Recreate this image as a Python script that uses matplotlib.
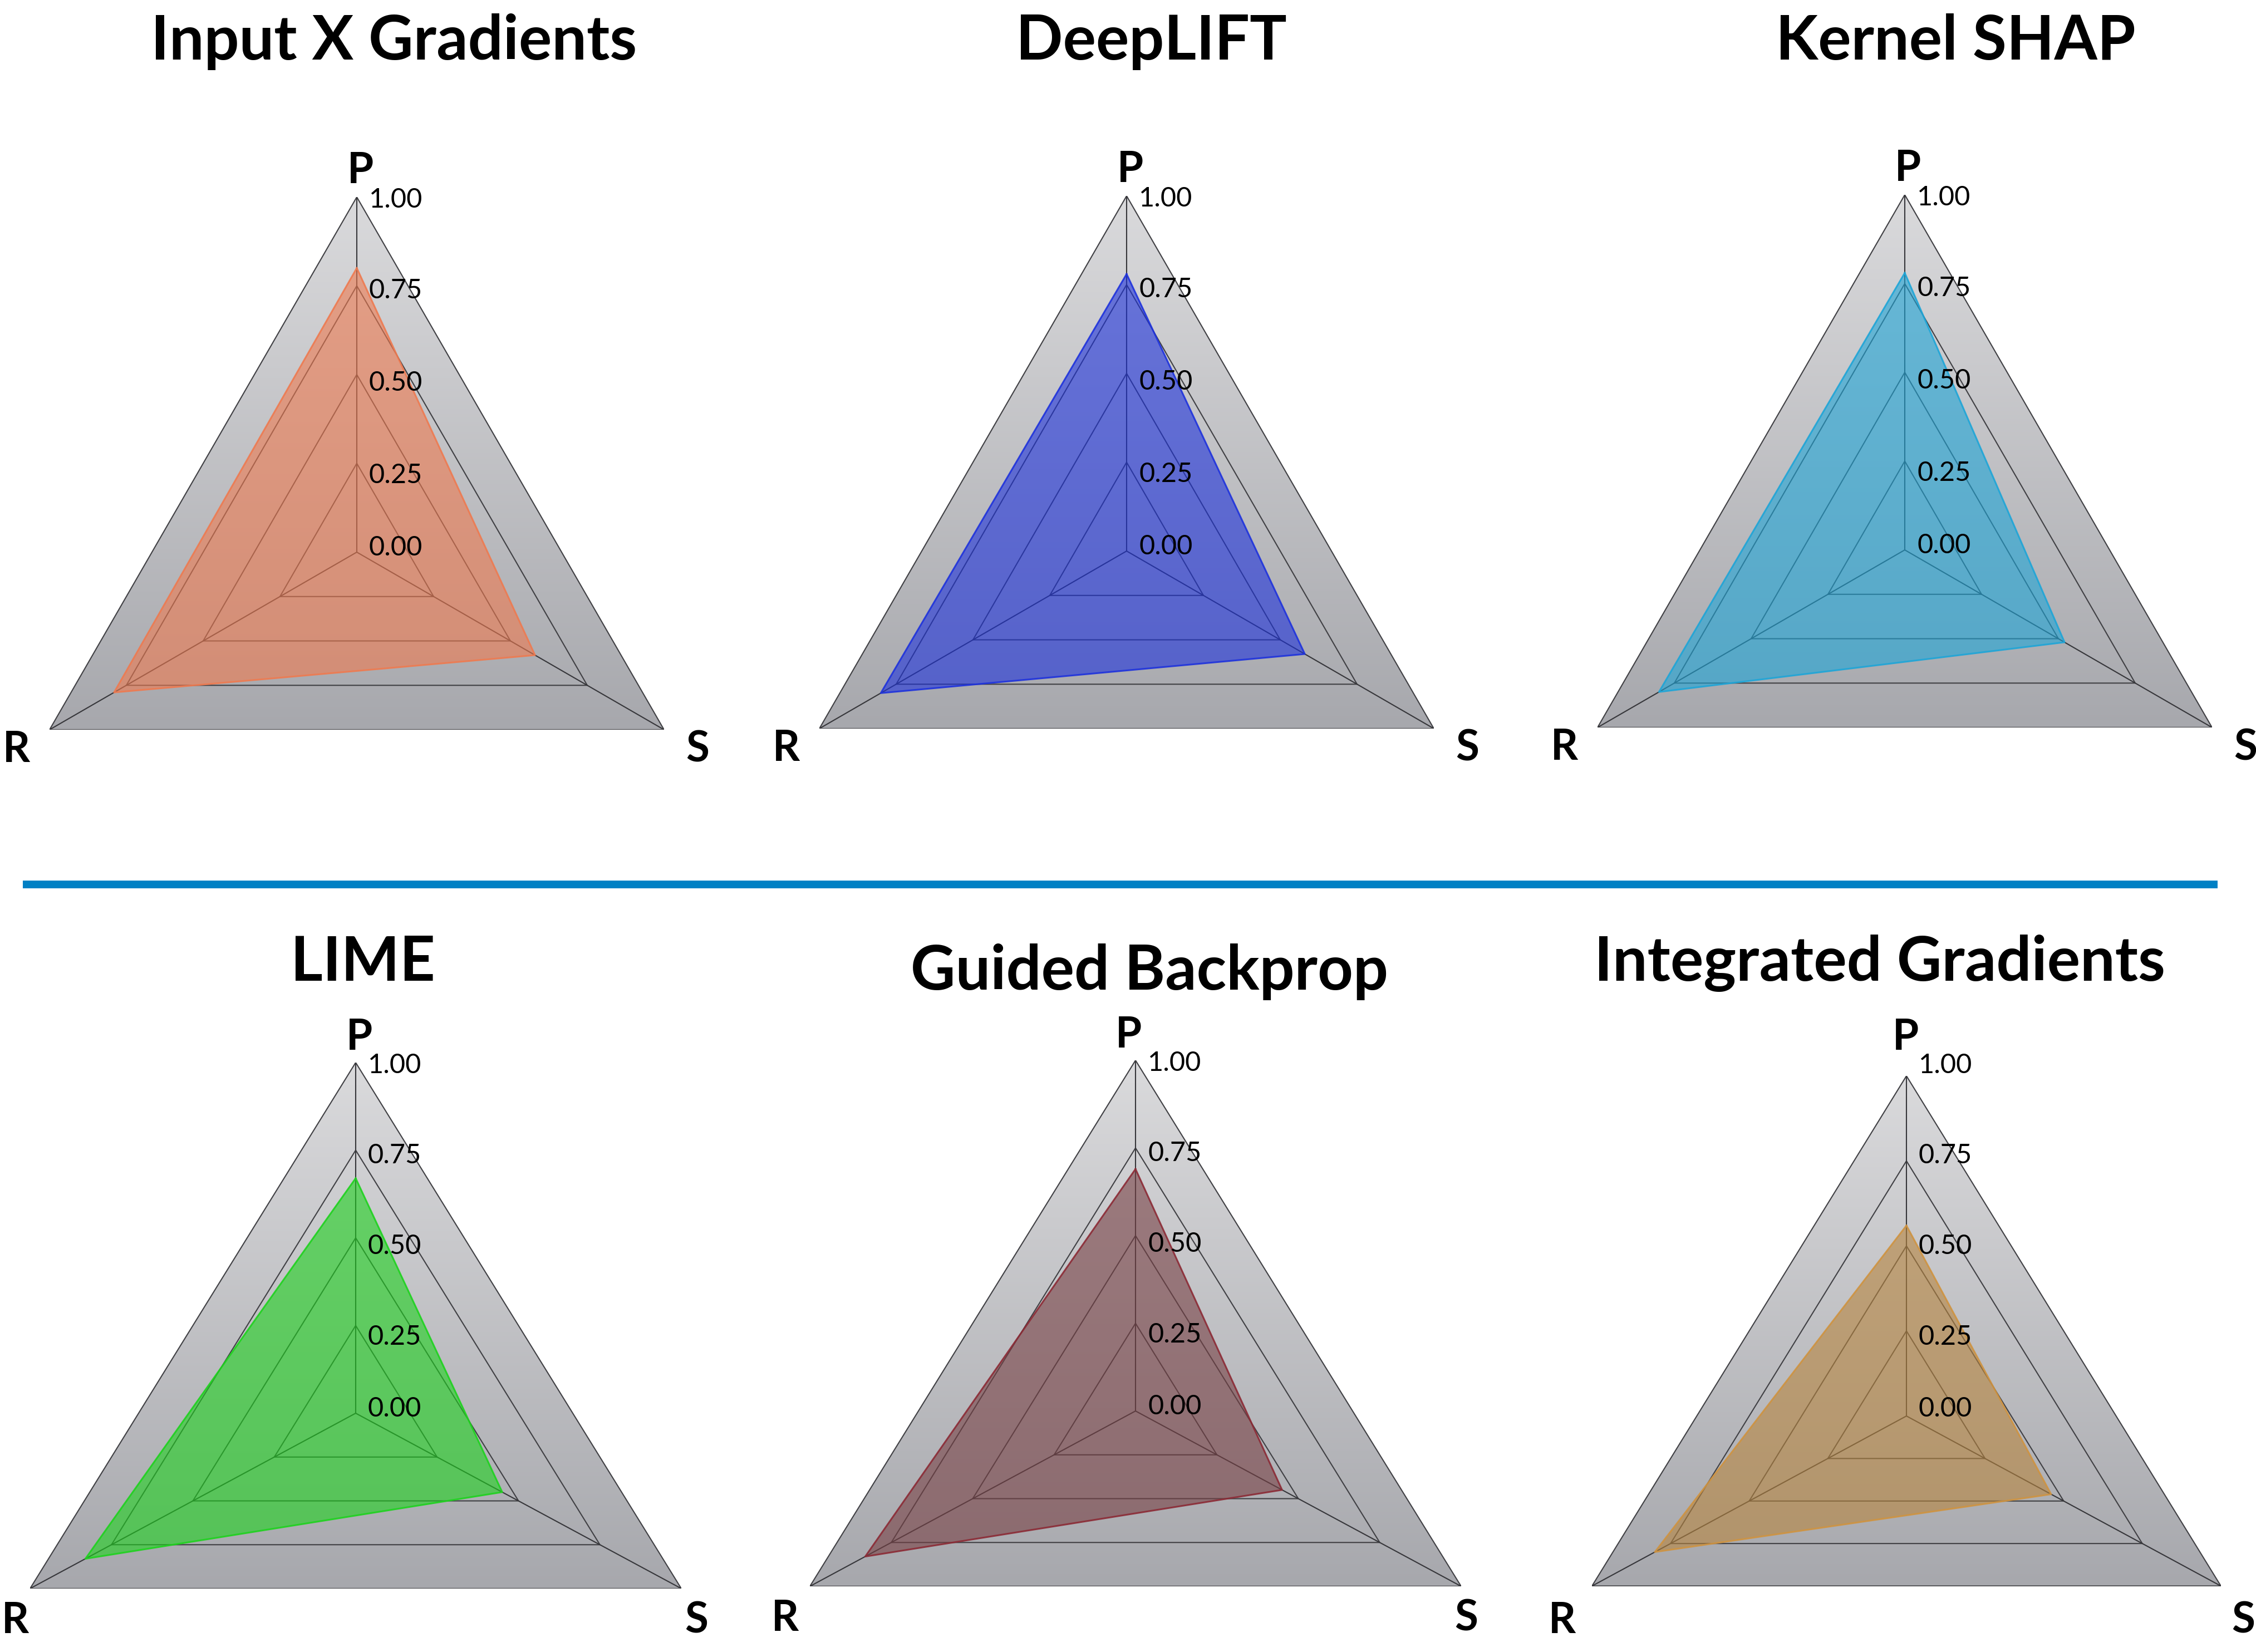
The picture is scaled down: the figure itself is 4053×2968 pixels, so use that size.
import numpy as np
import matplotlib
matplotlib.use("Agg")
import matplotlib.pyplot as plt
from matplotlib.patches import Polygon
from matplotlib.colors import LinearSegmentedColormap
from matplotlib.lines import Line2D

plt.rcParams['font.family'] = ['Lato', 'DejaVu Sans']

# data
methods = ["Input X Gradients", "DeepLIFT", "Kernel SHAP",
           "LIME", "Guided Backprop", "Integrated Gradients"]
axis_names = ["P", "S", "R"]
p_vals = [0.80, 0.78, 0.78, 0.67, 0.69, 0.56]
s_vals = [0.58, 0.58, 0.52, 0.45, 0.45, 0.46]
r_vals = [0.79, 0.80, 0.80, 0.83, 0.83, 0.80]
fill_colors = ["#EE7A50", "#1E32DC", "#1EA5D7", "#1ED21E", "#784145", "#B7853F"]
edge_colors = ["#EE7A50", "#1E32DC", "#1EA5D7", "#1ED21E", "#8B2A35", "#CF9340"]
ticks = [0.00, 0.25, 0.50, 0.75, 1.00]

W, H = 4053, 2968
fig = plt.figure(figsize=(W / 100, H / 100), dpi=100)

angles = np.deg2rad([90, -30, 210])  # P, S, R
ca, sa = np.cos(angles), np.sin(angles)
bg_cmap = LinearSegmentedColormap.from_list("bg", ["#a7a8ad", "#dadadc"])

# chart layout in pixels: centre x, centre y, half width, radius (y)
layout = [(641, 992, 552, 638), (2024, 990, 552, 638), (3422, 988, 552, 638),
          (639, 2539, 585, 630), (2040, 2535, 585, 630), (3425, 2544, 565, 611)]
# frame used for the text around each chart (centre x, centre y, radius)
label_frame = [(641, 992, 638), (2024, 990, 638), (3422, 988, 638),
               (639, 2539, 630), (2022, 2535, 630), (3418, 2539, 630)]
title_pos = [(708, 107), (2068, 107), (3513, 107),
             (652, 1762), (2065, 1778), (3377, 1762)]
tick_dy = {0.0: -8, 0.25: 21, 0.5: 15, 0.75: 9, 1.0: 5}

def fy(y):
    return 1 - y / H

for i, name in enumerate(methods):
    cx, cy, rx, ry = layout[i]
    ax = fig.add_axes([(cx - rx) / W, fy(cy + 0.5 * ry), 2 * rx / W, 1.5 * ry / H])
    ax.set_xlim(-np.sqrt(3) / 2, np.sqrt(3) / 2)
    ax.set_ylim(-0.5, 1.0)
    ax.axis('off')

    # gradient background clipped to the outer triangle
    outer = Polygon(np.column_stack([ca, sa]), closed=True, transform=ax.transData,
                    facecolor='none', edgecolor='none')
    ax.add_patch(outer)
    grad = np.linspace(0, 1, 256).reshape(-1, 1)
    im = ax.imshow(grad, cmap=bg_cmap, origin='lower', aspect='auto',
                   extent=(-np.sqrt(3) / 2, np.sqrt(3) / 2, -0.5, 1.0), zorder=0)
    im.set_clip_path(outer)

    # grid rings and spokes
    for t in ticks[1:]:
        ring = Polygon(np.column_stack([t * ca, t * sa]), closed=True, fill=False,
                       edgecolor='#404044', lw=1.5, zorder=1)
        ax.add_patch(ring)
    for k in range(3):
        ax.plot([0, ca[k]], [0, sa[k]], color='#36363a', lw=1.5, zorder=1)

    vals = np.array([p_vals[i], s_vals[i], r_vals[i]])
    ax.fill(vals * ca, vals * sa, color=fill_colors[i], alpha=0.6, lw=0, zorder=2)
    ax.plot(np.append(vals * ca, vals[0] * ca[0]), np.append(vals * sa, vals[0] * sa[0]),
            color=edge_colors[i], lw=2.2, alpha=0.9, zorder=3)

    # radial tick labels
    lcx, lcy, lry = label_frame[i]
    for t in ticks:
        fig.text((cx + 22) / W, fy(lcy - t * lry + tick_dy[t]), f"{t:.2f}",
                 ha='left', va='center', fontsize=35, color='black', zorder=5)

    # axis letters
    p_gap = 12 if i < 3 else 10
    fig.text((lcx + 6) / W, fy(lcy - lry - p_gap), axis_names[0], ha='center',
             va='bottom', fontsize=55, fontweight='bold')
    side_dy = 36 if i < 3 else 58
    fig.text((lcx + 612) / W, fy(lcy + 0.5 * lry + side_dy), axis_names[1],
             ha='center', va='center', fontsize=55, fontweight='bold')
    fig.text((lcx - 612) / W, fy(lcy + 0.5 * lry + side_dy), axis_names[2],
             ha='center', va='center', fontsize=55, fontweight='bold')

    tx, ty = title_pos[i]
    fig.text(tx / W, fy(ty), name, ha='center', va='baseline',
             fontsize=80, fontweight='bold')

# blue separator between the two rows
fig.add_artist(Line2D([41 / W, 3984 / W], [fy(1589), fy(1589)],
                      transform=fig.transFigure, color='#0080C4', lw=10,
                      solid_capstyle='butt'))

fig.savefig("out.png", dpi=100, facecolor='white')
